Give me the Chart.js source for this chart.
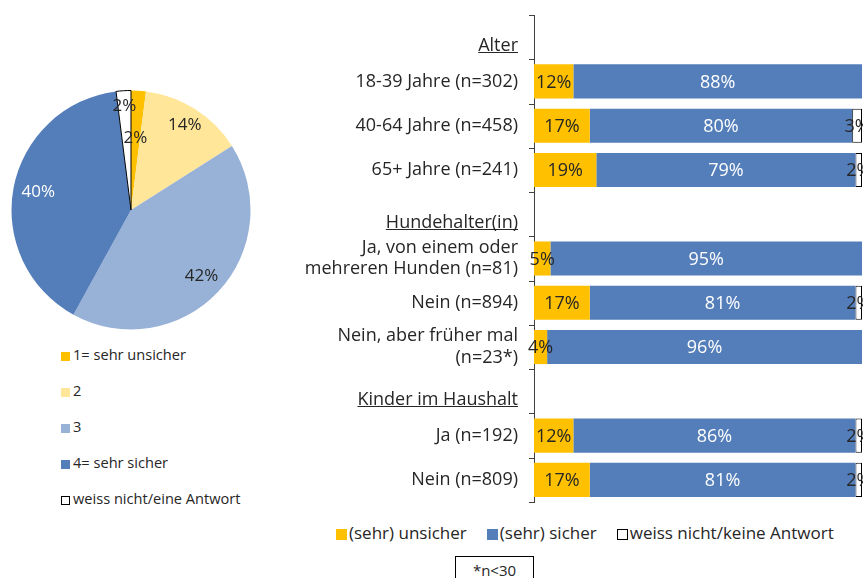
<!DOCTYPE html>
<html>
<head>
<meta charset="utf-8">
<script src="https://cdn.jsdelivr.net/npm/chart.js@4/dist/chart.umd.min.js"></script>
<style>
  body { margin: 0; background: #fff; font-family: "Open Sans", sans-serif; color: #262626; }
  #wrap { position: relative; width: 863px; height: 578px; overflow: hidden; }
  .box { position: absolute; }
  #pieLegend .item { height: 36px; line-height: 36px; font-size: 14.6px; white-space: nowrap; }
  #pieLegend .sq { display: inline-block; width: 9px; height: 9px; margin-right: 3px; box-sizing: border-box; vertical-align: -1px; }
  #barLegend { display: flex; gap: 20px; font-size: 17px; line-height: 20px; white-space: nowrap; }
  #barLegend .sq { display: inline-block; width: 11px; height: 11px; margin-right: 2px; box-sizing: border-box; vertical-align: -1px; }
  #note { left: 455px; top: 556px; width: 79px; height: 40px; border: 1px solid #000; box-sizing: border-box;
          text-align: center; font-size: 15px; line-height: 26px; }
</style>
</head>
<body>
<div id="wrap">
  <div class="box" style="left:11px;top:90px;width:240px;height:240px"><canvas id="pieChart"></canvas></div>
  <div class="box" id="pieLegend" style="left:61px;top:336px"></div>
  <div class="box" style="left:290px;top:0;width:573px;height:503px"><canvas id="barChart"></canvas></div>
  <div class="box" id="barLegend" style="left:336px;top:523px"></div>
  <div class="box" id="note">*n&lt;30</div>
</div>
<script>
// Pie data
const pieLabels = ["1= sehr unsicher", "2", "3", "4= sehr sicher", "weiss nicht/eine Antwort"];
const pieValues = [2, 14, 42, 40, 2];
const pieColors = ["#FFC000", "#FFE699", "#98B1D6", "#547EBA", "#FFFFFF"];

// Bar data (null = group header row)
const rowLabels = [
    "Alter",
    "18-39 Jahre (n=302)",
    "40-64 Jahre (n=458)",
    "65+ Jahre (n=241)",
    "Hundehalter(in)",
    ["Ja, von einem oder", "mehreren Hunden (n=81)"],
    "Nein (n=894)",
    ["Nein, aber früher mal", "(n=23*)"],
    "Kinder im Haushalt",
    "Ja (n=192)",
    "Nein (n=809)",
];
const headerRows = [0, 4, 8];
const unsicher = [null, 12, 17, 19, null, 5, 17, 4, null, 12, 17];
const sicher = [null, 88, 80, 79, null, 95, 81, 96, null, 86, 81];
const weissNicht = [null, 0, 3, 2, null, 0, 2, 0, null, 2, 2];
const seriesNames = ["(sehr) unsicher", "(sehr) sicher", "weiss nicht/keine Antwort"];
const seriesColors = ["#FFC000", "#547EBA", "#FFFFFF"];

const textColor = "#262626";
const axisColor = "#404040";
const fontFamily = "'Open Sans', sans-serif";

// html legends (one item per row for the pie, one row for the bars)
function addLegendItem(parent, label, color) {
    var item = document.createElement("div");
    item.className = "item";
    var sq = document.createElement("span");
    sq.className = "sq";
    sq.style.background = color;
    if (color === "#FFFFFF") sq.style.border = "1px solid #000";
    item.appendChild(sq);
    item.appendChild(document.createTextNode(label));
    parent.appendChild(item);
}
pieLabels.forEach((l, i) => addLegendItem(document.getElementById("pieLegend"), l, pieColors[i]));
seriesNames.forEach((l, i) => addLegendItem(document.getElementById("barLegend"), l, seriesColors[i]));

// draws percentage labels inside the pie slices
const pieLabelPlugin = {
    id: "pieLabels",
    afterDatasetsDraw(chart, args, opts) {
        const ctx = chart.ctx;
        const meta = chart.getDatasetMeta(0);
        ctx.save();
        ctx.font = "17px " + fontFamily;
        ctx.textAlign = "center";
        ctx.textBaseline = "middle";
        meta.data.forEach((arc, i) => {
            const p = arc.getProps(["x", "y", "startAngle", "endAngle", "outerRadius"], true);
            const mid = (p.startAngle + p.endAngle) / 2;
            const r = p.outerRadius * opts.radius[i];
            ctx.fillStyle = opts.colors[i];
            ctx.fillText(pieValues[i] + "%", p.x + Math.cos(mid) * r, p.y + Math.sin(mid) * r);
        });
        ctx.restore();
    },
};

var pieChart = new Chart(document.getElementById("pieChart"), {
    type: "pie",
    data: {
        labels: pieLabels,
        datasets: [{
            data: pieValues,
            backgroundColor: pieColors,
            borderColor: "#000",
            borderWidth: [0, 0, 0, 0, 1],
        }],
    },
    options: {
        responsive: true,
        maintainAspectRatio: false,
        animation: false,
        plugins: {
            legend: { display: false },
            tooltip: { enabled: false },
            pieLabels: {
                radius: [0.6, 0.84, 0.81, 0.79, 0.87],
                colors: ["#262626", "#262626", "#262626", "#FFFFFF", "#262626"],
            },
        },
    },
    plugins: [pieLabelPlugin],
});

// value labels in the bars, underlined group headers, tick marks between rows
const barLabelPlugin = {
    id: "barLabels",
    afterDatasetsDraw(chart, args, opts) {
        const ctx = chart.ctx;
        ctx.save();
        ctx.font = "18px " + fontFamily;
        ctx.textAlign = "center";
        ctx.textBaseline = "middle";
        chart.data.datasets.forEach((ds, d) => {
            chart.getDatasetMeta(d).data.forEach((bar, i) => {
                const v = ds.data[i];
                if (!v) return;
                const c = bar.getCenterPoint();
                ctx.fillStyle = opts.colors[d];
                ctx.fillText(v + "%", c.x, c.y + 1);
            });
        });
        ctx.restore();
    },
    afterDraw(chart) {
        const ctx = chart.ctx;
        const y = chart.scales.y;
        const right = y.right - 16;
        ctx.save();
        // tick marks on the category boundaries
        ctx.strokeStyle = axisColor;
        ctx.lineWidth = 1;
        const step = (y.bottom - y.top) / rowLabels.length;
        for (let k = 0; k <= rowLabels.length; k++) {
            const ty = Math.round(y.top + k * step) + 0.5;
            ctx.beginPath();
            ctx.moveTo(y.right - 5, ty);
            ctx.lineTo(y.right, ty);
            ctx.stroke();
        }
        ctx.font = "18px " + fontFamily;
        ctx.textAlign = "right";
        ctx.textBaseline = "alphabetic";
        ctx.fillStyle = textColor;
        ctx.strokeStyle = textColor;
        headerRows.forEach((i) => {
            const base = y.getPixelForValue(i) + 13.5;
            ctx.fillText(rowLabels[i], right, base);
            const w = ctx.measureText(rowLabels[i]).width;
            ctx.beginPath();
            ctx.moveTo(right - w, Math.round(base) + 1.5);
            ctx.lineTo(right, Math.round(base) + 1.5);
            ctx.stroke();
        });
        ctx.restore();
    },
};

var barChart = new Chart(document.getElementById("barChart"), {
    type: "bar",
    data: {
        labels: rowLabels,
        datasets: [
            { label: seriesNames[0], data: unsicher, backgroundColor: seriesColors[0], borderWidth: 0 },
            { label: seriesNames[1], data: sicher, backgroundColor: seriesColors[1], borderWidth: 0 },
            { label: seriesNames[2], data: weissNicht, backgroundColor: seriesColors[2], borderColor: "#000", borderWidth: 1, borderSkipped: false },
        ],
    },
    options: {
        indexAxis: "y",
        responsive: true,
        maintainAspectRatio: false,
        animation: false,
        barPercentage: 0.77,
        categoryPercentage: 1,
        layout: { padding: { top: 15, right: 1, bottom: 1 } },
        scales: {
            x: { stacked: true, min: 0, max: 100, display: false },
            y: {
                stacked: true,
                afterFit: function (scale) {
                    scale.width = 244;
                    scale.paddingTop = 0;
                    scale.paddingBottom = 0;
                },
                border: { color: axisColor, width: 1 },
                grid: { display: false, tickLength: 8 },
                ticks: {
                    color: textColor,
                    padding: 8,
                    autoSkip: false,
                    font: { family: fontFamily, size: 18 },
                    callback: function (value, index) {
                        return headerRows.includes(index) ? "" : rowLabels[index];
                    },
                },
            },
        },
        plugins: {
            tooltip: { enabled: false },
            legend: { display: false },
            barLabels: { colors: ["#262626", "#FFFFFF", "#262626"] },
        },
    },
    plugins: [barLabelPlugin],
});
</script>
</body>
</html>
